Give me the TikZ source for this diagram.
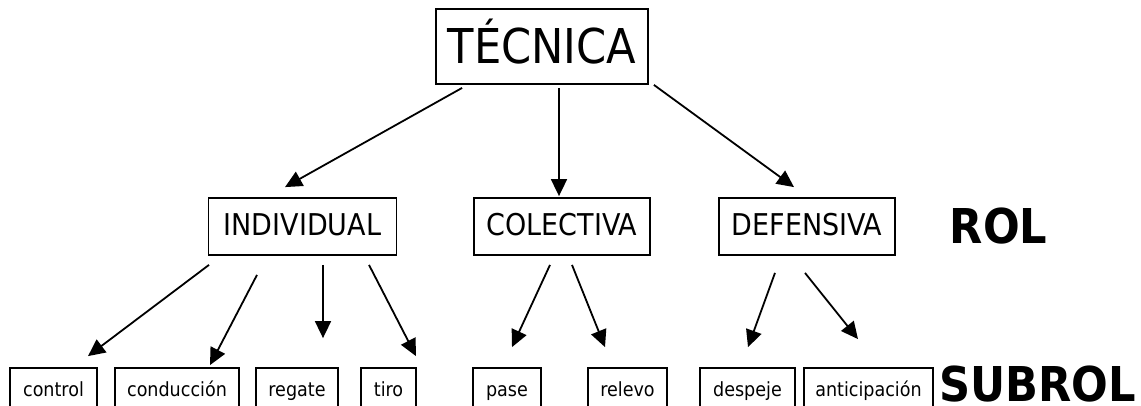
\documentclass[tikz,border=0pt]{standalone}
\usepackage{fontspec}
\setmainfont{DejaVu Sans Condensed}
\usetikzlibrary{arrows.meta,calc}

\begin{document}
\begin{tikzpicture}[x=1pt, y=-1pt,
  box/.style={draw, line width=1.8pt, inner sep=0pt},
  topbox/.style={box, minimum height=75pt, font=\fontsize{48}{52}\selectfont, text height=40pt, text depth=7pt},
  rolbox/.style={box, minimum height=57pt, font=\fontsize{30}{34}\selectfont, text height=23pt, text depth=6pt},
  subbox/.style={box, minimum height=44pt, font=\fontsize{19.5}{22}\selectfont, text height=15pt, text depth=3pt},
  level/.style={anchor=base, inner sep=0pt, font=\fontsize{48}{52}\selectfont\bfseries},
  arrow/.style={line width=1.8pt, -{Triangle[length=17pt, width=16pt]}}]
\useasboundingbox (0,0) rectangle (1141,405);
% top
\node[topbox, minimum width=212pt] (tecnica) at (542,46.5) {TÉCNICA};
% roles
\node[rolbox, minimum width=188pt] (individual) at (302.5,226.5) {INDIVIDUAL};
\node[rolbox, minimum width=176pt] (colectiva) at (562,226.5) {COLECTIVA};
\node[rolbox, minimum width=176pt] (defensiva) at (807,226.5) {DEFENSIVA};
\node[level] (rol) at (998.5,243) {ROL};
% subroles
\node[subbox, minimum width=87pt] (control) at (53.5,390) {control};
\node[subbox, minimum width=124pt] (conduccion) at (177,390) {conducción};
\node[subbox, minimum width=82pt] (regate) at (297,390) {regate};
\node[subbox, minimum width=55pt] (tiro) at (388.5,390) {tiro};
\node[subbox, minimum width=68pt] (pase) at (507,390) {pase};
\node[subbox, minimum width=79pt] (relevo) at (627.5,390) {relevo};
\node[subbox, minimum width=95pt] (despeje) at (747.5,390) {despeje};
\node[subbox, minimum width=129pt] (anticipacion) at (868.5,390) {anticipación};
\node[level] (subrol) at (1037.5,401) {SUBROL};
% arrows
\draw[arrow] ($(tecnica.south west)+(27,3)$) -- ($(individual.north)+(-17.5,-10)$);
\draw[arrow] ($(tecnica.south)+(17,3)$) -- ($(colectiva.north)+(-3,-1)$);
\draw[arrow] ($(tecnica.south east)+(5,0)$) -- ($(defensiva.north)+(-13,-10)$);
\draw[arrow] ($(individual.south)+(-93.5,9)$) -- ($(control.north)+(34.5,-11)$);
\draw[arrow] ($(individual.south)+(-45.5,19)$) -- ($(conduccion.north)+(33,-2)$);
\draw[arrow] ($(individual.south)+(20.5,9)$) -- ($(regate.north)+(26,-29)$);
\draw[arrow] ($(individual.south)+(66.5,9)$) -- ($(tiro.north)+(27.5,-11)$);
\draw[arrow] ($(colectiva.south)+(-12,9)$) -- ($(pase.north)+(5,-20)$);
\draw[arrow] ($(colectiva.south)+(10,9)$) -- ($(relevo.north)+(-22.5,-20)$);
\draw[arrow] ($(defensiva.south)+(-32,17)$) -- ($(despeje.north)+(0.5,-20)$);
\draw[arrow] ($(defensiva.south)+(-2,17)$) -- ($(anticipacion.north)+(-10.5,-28)$);
\end{tikzpicture}
\end{document}
